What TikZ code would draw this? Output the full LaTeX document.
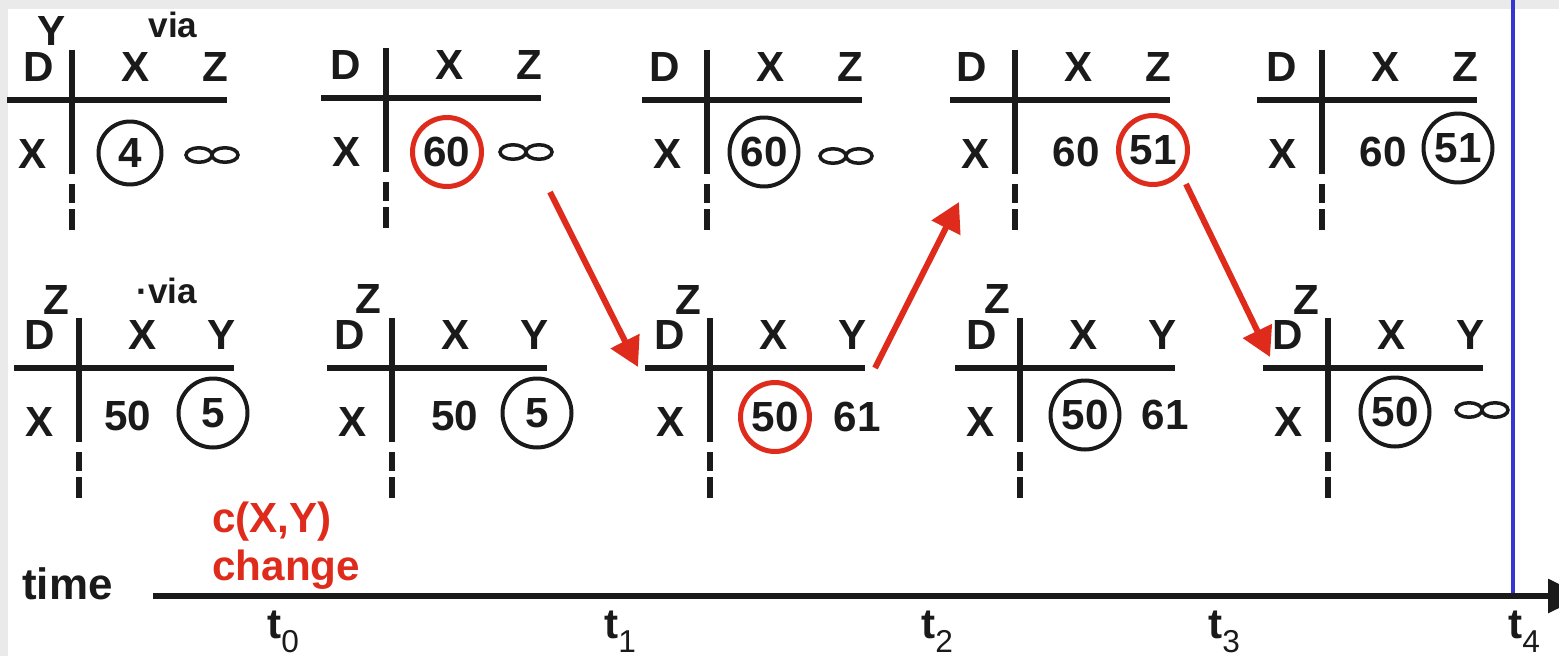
\documentclass[tikz,border=0pt]{standalone}
\usepackage{fontspec}
\setmainfont{Liberation Sans}
\usetikzlibrary{arrows.meta}
\definecolor{bggray}{HTML}{EAEAEA}
\definecolor{myred}{HTML}{DE2B1C}
\definecolor{myblue}{HTML}{3535CF}
\definecolor{ink}{HTML}{1A1A1A}
\newcommand{\dvtab}[6]{%
  \draw[tabline] (#2-65,#3) -- (#2+155,#3);
  \draw[tabline] (#2,#3-50) -- (#2,#3+74);
  \draw[tabline] (#2,#3+84) -- (#2,#3+103);
  \draw[tabline] (#2,#3+109) -- (#2,#3+130);
  \node[lbl] (#1-D) at (#2#6,#3-33) {D};
  \node[lbl] (#1-c1) at (#2+64,#3-33) {#4};
  \node[lbl] (#1-c2) at (#2+143,#3-33) {#5};
  \node[lbl] (#1-r) at (#2-39,#3+54) {X};
}
\newcommand{\infsym}[3]{%
  \coordinate (#1) at (#2,#3);
  \draw[infline] (#2-13,#3) ellipse [x radius=0.26cm, y radius=0.145cm];
  \draw[infline] (#2+13,#3) ellipse [x radius=0.26cm, y radius=0.145cm];
}
\begin{document}
\begin{tikzpicture}[x=0.02cm,y=-0.02cm,
  tabline/.style={line width=0.125cm, ink},
  infline/.style={line width=0.07cm, ink},
  lbl/.style={inner sep=0pt, text=ink, font=\fontsize{24}{26}\selectfont\bfseries},
  vialbl/.style={inner sep=0pt, text=ink, font=\fontsize{20}{22}\selectfont\bfseries},
  circ/.style={lbl, circle, draw=ink, line width=0.08cm, minimum size=1.38cm},
  redcirc/.style={lbl, circle, draw=myred, line width=0.1cm, minimum size=1.38cm},
  redarrow/.style={myred, line width=0.12cm, -{Triangle[length=0.58cm,width=0.62cm]}},
  redtxt/.style={inner sep=0pt, text=myred, font=\fontsize{24}{26}\selectfont\bfseries},
  tlbl/.style={inner sep=0pt, text=ink, anchor=base west, font=\fontsize{24}{26}\selectfont\bfseries}
]
\useasboundingbox (0,0) rectangle (1559,656);
\fill[bggray] (0,0) rectangle (1559,656);
\fill[white] (8,9) rectangle (1559,656);

% top row
\dvtab{ta}{72}{100}{X}{Z}{-33}
\dvtab{tb}{386}{98}{X}{Z}{-40}
\dvtab{tc}{707}{100}{X}{Z}{-42}
\dvtab{td}{1015}{100}{X}{Z}{-43}
\dvtab{te}{1322}{100}{X}{Z}{-40}
% bottom row
\dvtab{tf}{79}{368}{X}{Y}{-39}
\dvtab{tg}{392}{368}{X}{Y}{-42}
\dvtab{th}{710}{368}{X}{Y}{-40}
\dvtab{ti}{1020}{368}{X}{Y}{-38}
\dvtab{tj}{1328}{368}{X}{Y}{-40}

% superscripts
\node[lbl] (ta-s) at (52,31) {Y};
\node[lbl] (tf-s) at (56,300) {Z};
\node[lbl] (tg-s) at (368,299) {Z};
\node[lbl] (th-s) at (688,300) {Z};
\node[lbl] (ti-s) at (997,299) {Z};
\node[lbl] (tj-s) at (1306,300) {Z};
\node[vialbl, anchor=base] (ta-via) at (173,37) {via};
\node[vialbl, anchor=base west] (tf-via) at (136,303) {·via};

% values top
\node[circ, minimum size=1.26cm] (ta-v1) at (130,153) {4};
\infsym{ta-v2}{212}{155}
\node[redcirc] (tb-v1) at (447,152) {60};
\infsym{tb-v2}{526}{152}
\node[circ] (tc-v1) at (764,152) {60};
\infsym{tc-v2}{846}{156}
\node[lbl] (td-v1) at (1076,152) {60};
\node[redcirc] (td-v2) at (1153,150) {51};
\node[lbl] (te-v1) at (1383,152) {60};
\node[circ] (te-v2) at (1458,148) {51};
% values bottom
\node[lbl] (tf-v1) at (128,416) {50};
\node[circ] (tf-v2) at (213,413) {5};
\node[lbl] (tg-v1) at (455,416) {50};
\node[circ] (tg-v2) at (537,413) {5};
\node[redcirc] (th-v1) at (775,417) {50};
\node[lbl] (th-v2) at (857,417) {61};
\node[circ] (ti-v1) at (1085,415) {50};
\node[lbl] (ti-v2) at (1165,415) {61};
\node[circ] (tj-v1) at (1395,412) {50};
\infsym{tj-v2}{1482}{410}

% red arrows
\coordinate (a1s) at (550,192);
\coordinate (a1e) at (638,367);
\coordinate (a2s) at (875,368);
\coordinate (a2e) at (959,202);
\coordinate (a3s) at (1186,184);
\coordinate (a3e) at (1270,357);
\draw[redarrow] (a1s) -- (a1e);
\draw[redarrow] (a2s) -- (a2e);
\draw[redarrow] (a3s) -- (a3e);

% blue line and time axis
\coordinate (bt) at (1513,0);
\coordinate (bb) at (1513,596);
\draw[myblue, line width=0.08cm] (bt) -- (bb);
\coordinate (ax0) at (153,596);
\coordinate (ax1) at (1584,596);
\draw[ink, line width=0.12cm, -{Triangle[length=0.72cm,width=0.66cm]}] (ax0) -- (ax1);

\node[inner sep=0pt, text=ink, anchor=base west, font=\fontsize{25}{27}\selectfont\bfseries] (time) at (22,599) {time};
\node[redtxt, anchor=base west] (cxy) at (212,532) {c(X,Y)};
\node[redtxt, anchor=base west] (chg) at (212,580) {change};

\node[tlbl] (t0) at (267,638) {t\raisebox{-0.28cm}{\fontsize{18}{20}\selectfont\mdseries 0}};
\node[tlbl] (t1) at (604,638) {t\raisebox{-0.28cm}{\fontsize{18}{20}\selectfont\mdseries 1}};
\node[tlbl] (t2) at (921,638) {t\raisebox{-0.28cm}{\fontsize{18}{20}\selectfont\mdseries 2}};
\node[tlbl] (t3) at (1208,638) {t\raisebox{-0.28cm}{\fontsize{18}{20}\selectfont\mdseries 3}};
\node[tlbl] (t4) at (1508,638) {t\raisebox{-0.28cm}{\fontsize{18}{20}\selectfont\mdseries 4}};
\end{tikzpicture}
\end{document}
